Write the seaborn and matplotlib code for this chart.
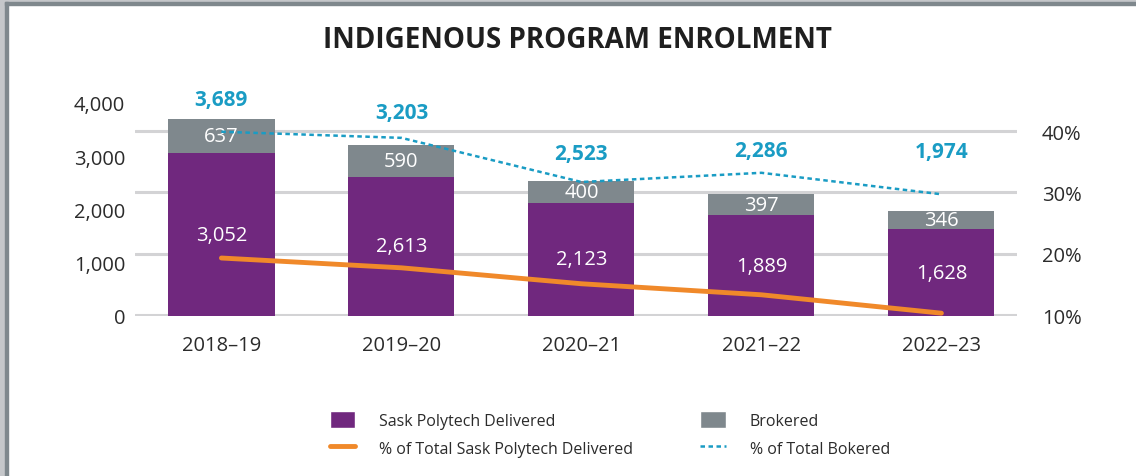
import matplotlib
matplotlib.use("Agg")
import matplotlib.pyplot as plt
from matplotlib.patches import Patch, Rectangle
from matplotlib.lines import Line2D
from matplotlib.ticker import FuncFormatter
import seaborn as sns
import pandas as pd

# data
years = ["2018–19", "2019–20", "2020–21", "2021–22", "2022–23"]
delivered = [3052, 2613, 2123, 1889, 1628]
brokered = [637, 590, 400, 397, 346]
pct_delivered = [19.3, 17.7, 15.1, 13.3, 10.3]
pct_brokered = [39.9, 38.9, 31.7, 33.2, 29.7]
# heights (left axis units) where the total labels sit
total_label_y = [4060, 3810, 3050, 3100, 3090]

purple = "#70287e"
grey = "#7f888d"
orange = "#f0892a"
teal = "#1a9cc4"
txt = "#2b2b2b"

df = pd.DataFrame({"year": years, "delivered": delivered, "brokered": brokered})
df["total"] = df["delivered"] + df["brokered"]

sns.set_style("white")
plt.rcParams["font.family"] = ["Open Sans", "DejaVu Sans"]

fig = plt.figure(figsize=(11.36, 4.77), dpi=100)
ax = fig.add_axes([135 / 1136, 160 / 477, 882 / 1136, 217 / 477])

# right axis with gridlines, behind the bars
ax_pct = ax.twinx()
ax_pct.set_zorder(ax.get_zorder() - 1)
ax.patch.set_visible(False)

sns.barplot(data=df, x="year", y="total", color=grey, width=0.59,
            saturation=1, errorbar=None, linewidth=0, ax=ax)
sns.barplot(data=df, x="year", y="delivered", color=purple, width=0.59,
            saturation=1, errorbar=None, linewidth=0, ax=ax)
ax.set_ylim(0, 4070)
ax.set_xlim(-0.48, 4.42)
ax.set_yticks([0, 1000, 2000, 3000, 4000])
ax.yaxis.set_major_formatter(FuncFormatter(lambda v, p: f"{int(v):,}"))
ax.tick_params(axis="y", labelsize=14.5, colors=txt, length=0, pad=7)
ax.tick_params(axis="x", labelsize=14.5, colors=txt, length=0, pad=14)
ax.set_xlabel("")
ax.set_ylabel("")

ax_pct.set_ylim(9.84, 45.24)
ax_pct.set_yticks([10, 20, 30, 40])
ax_pct.yaxis.set_major_formatter(FuncFormatter(lambda v, p: f"{int(v)}%"))
ax_pct.tick_params(axis="y", labelsize=14.5, colors=txt, length=0, pad=18)
ax_pct.grid(axis="y", color="#d3d3d5", linewidth=2.2)
ax_pct.grid(axis="x", visible=False)

# lines on top of everything
ax_line = ax.twinx()
ax_line.set_ylim(9.84, 45.24)
sns.lineplot(x=years, y=pct_delivered, color=orange, linewidth=3.5,
             sort=False, ax=ax_line, solid_capstyle="round")
sns.lineplot(x=years, y=pct_brokered, color=teal, linewidth=1.8,
             linestyle=(0, (1.8, 1.4)), sort=False, ax=ax_line)
ax_line.set_yticks([])
ax_line.set_ylabel("")

for a in (ax, ax_pct, ax_line):
    for s in a.spines.values():
        s.set_visible(False)

# segment labels
for i, row in df.iterrows():
    ax.text(i, row["delivered"] / 2, f"{row['delivered']:,}", ha="center",
            va="center", color="white", fontsize=14.5)
    ax.text(i, row["delivered"] + row["brokered"] / 2, f"{row['brokered']:,}",
            ha="center", va="center", color="white", fontsize=14.5)
    ax.text(i, total_label_y[i], f"{row['total']:,}", ha="center", va="center",
            color=teal, fontsize=15, fontweight="bold", clip_on=False)

fig.text(0.508, 0.916, "INDIGENOUS PROGRAM ENROLMENT", ha="center",
         va="center", fontsize=20, fontweight="bold", color="#1f1f1f")

handles = [
    Patch(facecolor=purple, label="Sask Polytech Delivered"),
    Line2D([], [], color=orange, linewidth=3.5, solid_capstyle="round",
           label="% of Total Sask Polytech Delivered"),
    Patch(facecolor=grey, label="Brokered"),
    Line2D([], [], color=teal, linewidth=1.8, linestyle=(0, (1.8, 1.4)),
           label="% of Total Bokered"),
]
leg = fig.legend(handles=handles, ncol=2, loc="center",
                 bbox_to_anchor=(0.537, 0.088), frameon=False, fontsize=11.5,
                 handlelength=1.6, handleheight=1.2, handletextpad=1.5,
                 columnspacing=4.2, labelspacing=0.65)
for t in leg.get_texts():
    t.set_color(txt)

# page frame
fig.patches.append(Rectangle((0, 0), 5 / 1136, 1, transform=fig.transFigure,
                             color="#c5c7ca", zorder=0))
fig.patches.append(Rectangle((0, 1 - 3 / 477), 1, 3 / 477,
                             transform=fig.transFigure, color="#c5c7ca", zorder=0))
fig.patches.append(Rectangle((5 / 1136, 0), 2.5 / 1136, 1 - 3 / 477,
                             transform=fig.transFigure, color="#7f888d", zorder=0))
fig.patches.append(Rectangle((5 / 1136, 1 - 5.5 / 477), 1, 2.5 / 477,
                             transform=fig.transFigure, color="#7f888d", zorder=0))

fig.savefig("out.png", dpi=100)
